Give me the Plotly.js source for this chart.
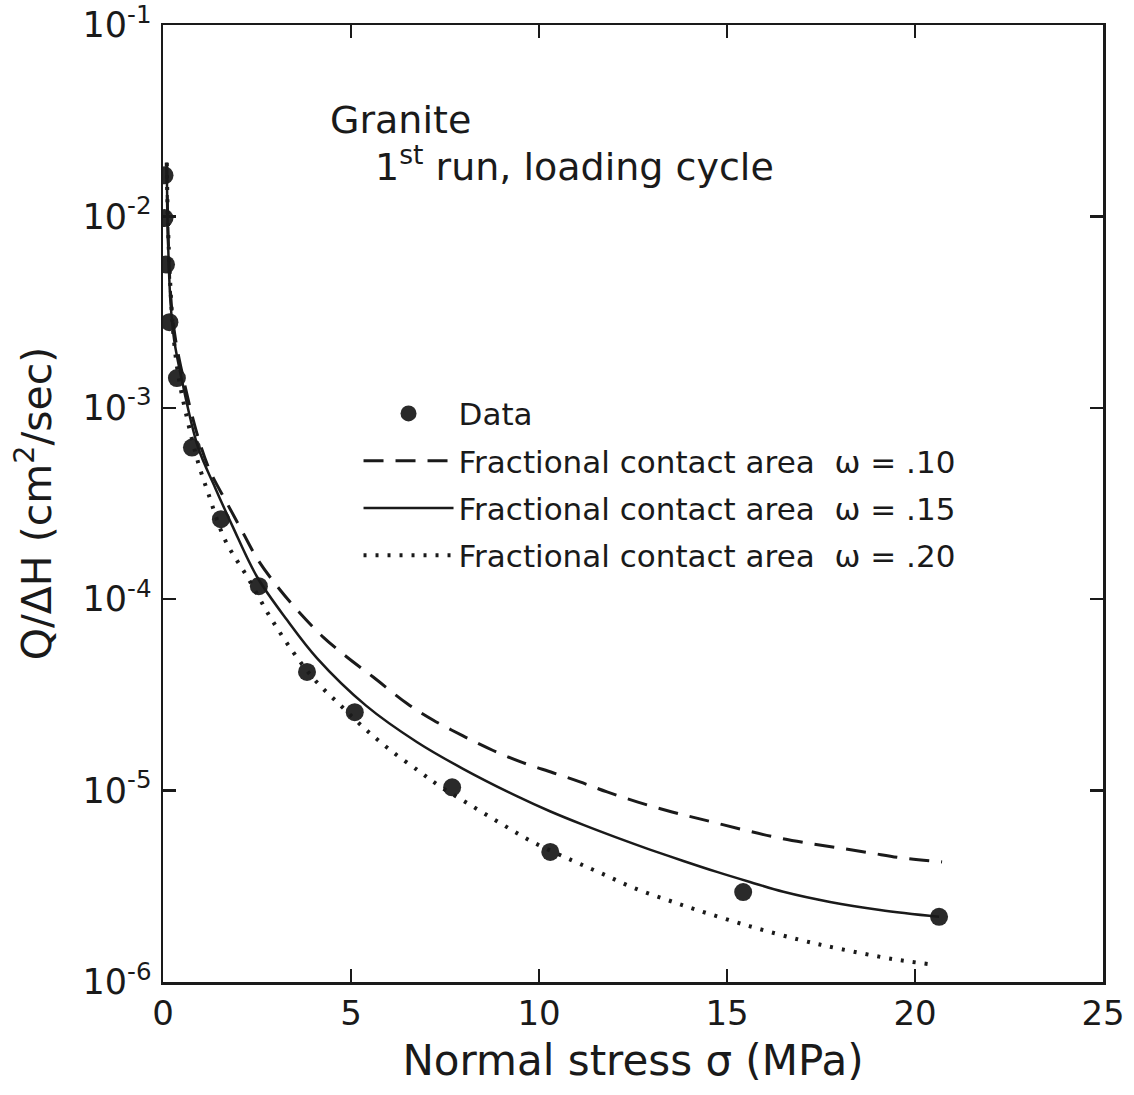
<!DOCTYPE html>
<html>
<head>
<meta charset="utf-8">
<script src="https://cdn.plot.ly/plotly-3.0.1.min.js"></script>
<style>
  html, body { margin: 0; padding: 0; background: #ffffff; }
  #chart { width: 1134px; height: 1095px; }
</style>
</head>
<body>
<div id="chart"></div>
<script>
// Measured data points (normal stress in MPa, Q/ΔH in cm²/sec)
const dataStress = [0.04, 0.04, 0.08, 0.17, 0.37, 0.77, 1.54, 2.55, 3.83, 5.1, 7.69, 10.3, 15.43, 20.64];
const dataFlow = [1.64e-2, 9.8e-3, 5.6e-3, 2.8e-3, 1.43e-3, 6.2e-4, 2.62e-4, 1.17e-4, 4.17e-5, 2.57e-5, 1.04e-5, 4.78e-6, 2.95e-6, 2.19e-6];

// Model curve, fractional contact area ω = .10 (dashed)
const stressW10 = [0.10, 0.13, 0.20, 0.30, 0.50, 0.90, 1.25, 1.70, 2.13, 2.53, 3.11, 3.64, 4.26, 4.89, 5.59, 6.49, 7.18, 7.98, 8.78, 9.57, 10.37, 11.09, 11.81, 12.63, 13.54, 14.41, 15.35, 16.25, 17.15, 18.0, 18.83, 19.65, 20.72];
const flowW10 = [1.905e-2, 8.91e-3, 3.98e-3, 2.51e-3, 1.55e-3, 7.38e-4, 4.68e-4, 3.18e-4, 2.22e-4, 1.60e-4, 1.12e-4, 8.47e-5, 6.34e-5, 4.99e-5, 3.92e-5, 2.85e-5, 2.34e-5, 1.93e-5, 1.62e-5, 1.40e-5, 1.24e-5, 1.11e-5, 9.84e-6, 8.71e-6, 7.73e-6, 7.01e-6, 6.30e-6, 5.73e-6, 5.32e-6, 5.01e-6, 4.72e-6, 4.45e-6, 4.24e-6];

// Model curve, ω = .15 (solid)
const stressW15 = [0.10, 0.13, 0.20, 0.30, 0.50, 0.93, 1.38, 1.86, 2.5, 3.3, 4.1, 5.4, 6.76, 7.98, 9.41, 10.29, 11.18, 12.07, 12.95, 13.84, 14.73, 15.61, 16.5, 17.74, 19.07, 20.64];
const flowW15 = [1.905e-2, 7.94e-3, 3.55e-3, 2.24e-3, 1.40e-3, 6.24e-4, 3.85e-4, 2.38e-4, 1.31e-4, 7.78e-5, 4.91e-5, 2.78e-5, 1.79e-5, 1.30e-5, 9.35e-6, 7.80e-6, 6.62e-6, 5.68e-6, 4.92e-6, 4.29e-6, 3.76e-6, 3.33e-6, 2.96e-6, 2.62e-6, 2.38e-6, 2.19e-6];

// Model curve, ω = .20 (dotted)
const stressW20 = [0.10, 0.15, 0.27, 0.40, 0.60, 0.93, 1.2, 1.65, 2.26, 2.85, 3.46, 4.04, 4.71, 5.32, 6.04, 6.84, 7.37, 8.09, 8.96, 9.84, 10.9, 11.68, 12.47, 13.35, 14.2, 15.59, 16.94, 18.0, 19.39, 20.37];
const flowW20 = [1.905e-2, 7.08e-3, 2.51e-3, 1.51e-3, 9.55e-4, 5.21e-4, 3.59e-4, 2.04e-4, 1.29e-4, 8.07e-5, 5.30e-5, 3.78e-5, 2.80e-5, 2.15e-5, 1.63e-5, 1.25e-5, 1.05e-5, 8.61e-6, 6.78e-6, 5.38e-6, 4.30e-6, 3.68e-6, 3.13e-6, 2.71e-6, 2.38e-6, 1.96e-6, 1.66e-6, 1.49e-6, 1.32e-6, 1.24e-6];

// Axis ticks
const xTickVals = [0, 5, 10, 15, 20, 25];
const xTickText = ['0', '5', '10', '15', '20', '25'];
const yTickVals = [1e-6, 1e-5, 1e-4, 1e-3, 1e-2, 1e-1];
const yTickText = ['10<sup>-6</sup>', '10<sup>-5</sup>', '10<sup>-4</sup>', '10<sup>-3</sup>', '10<sup>-2</sup>', '10<sup>-1</sup>'];

// Labels
const legendNames = ['Data', 'Fractional contact area  ω = .10', 'Fractional contact area  ω = .15', 'Fractional contact area  ω = .20'];

const FONT = '"DejaVu Sans", sans-serif';
const INK = '#1a1a1a';

const traces = [
  {
    x: dataStress, y: dataFlow, name: legendNames[0], type: 'scatter', mode: 'markers',
    marker: { size: 18, color: '#2a2a2a', line: { width: 0 } }, legendgroup: 'a'
  },
  {
    x: stressW10, y: flowW10, name: legendNames[1], type: 'scatter', mode: 'lines',
    line: { color: INK, width: 3, dash: '20px,12px', shape: 'spline', smoothing: 1 }, legendgroup: 'b'
  },
  {
    x: stressW15, y: flowW15, name: legendNames[2], type: 'scatter', mode: 'lines',
    line: { color: INK, width: 2.5, shape: 'spline', smoothing: 1 }, legendgroup: 'c'
  },
  {
    x: stressW20, y: flowW20, name: legendNames[3], type: 'scatter', mode: 'lines',
    line: { color: INK, width: 4, dash: '3px,9px', shape: 'spline', smoothing: 1 }, legendgroup: 'd'
  }
];

const layout = {
  width: 1134, height: 1095,
  margin: { l: 163, r: 31, t: 25, b: 113 },
  paper_bgcolor: '#ffffff', plot_bgcolor: '#ffffff',
  font: { family: FONT, color: INK, size: 34 },
  showlegend: true,
  legend: {
    x: 0.208, y: 0.622, xanchor: 'left', yanchor: 'top',
    bgcolor: 'rgba(0,0,0,0)', borderwidth: 0,
    font: { family: FONT, size: 31, color: INK },
    itemwidth: 90, tracegroupgap: 4
  },
  xaxis: {
    type: 'linear', range: [0, 25],
    tickmode: 'array', tickvals: xTickVals, ticktext: xTickText,
    ticks: 'inside', ticklen: 13, tickwidth: 2.5, tickcolor: INK,
    showline: true, linewidth: 2.5, linecolor: INK, mirror: 'ticks',
    showgrid: false, zeroline: false,
    tickfont: { family: FONT, size: 34, color: INK },
    ticklabelstandoff: 0, ticklabeloverflow: 'allow',
    title: { text: 'Normal stress σ (MPa)', font: { family: FONT, size: 42, color: INK }, standoff: 14 }
  },
  yaxis: {
    type: 'log', range: [-6, -1],
    tickmode: 'array', tickvals: yTickVals, ticktext: yTickText,
    ticks: 'inside', ticklen: 13, tickwidth: 2.5, tickcolor: INK,
    showline: true, linewidth: 2.5, linecolor: INK, mirror: 'ticks',
    showgrid: false, zeroline: false,
    tickfont: { family: FONT, size: 35, color: INK },
    ticklabelstandoff: 2, ticklabeloverflow: 'allow',
    title: { text: 'Q/ΔH (cm<sup>2</sup>/sec)', font: { family: FONT, size: 41, color: INK }, standoff: 18 }
  },
  annotations: [
    { xref: 'paper', yref: 'paper', x: 0.175, y: 0.901, xanchor: 'left', yanchor: 'middle',
      text: 'Granite', showarrow: false, font: { family: FONT, size: 38, color: INK } },
    { xref: 'paper', yref: 'paper', x: 0.223, y: 0.855, xanchor: 'left', yanchor: 'middle',
      text: '1<sup>st</sup> run, loading cycle', showarrow: false, font: { family: FONT, size: 38, color: INK } }
  ]
};

Plotly.newPlot('chart', traces, layout, { displayModeBar: false, staticPlot: true });
</script>
</body>
</html>
